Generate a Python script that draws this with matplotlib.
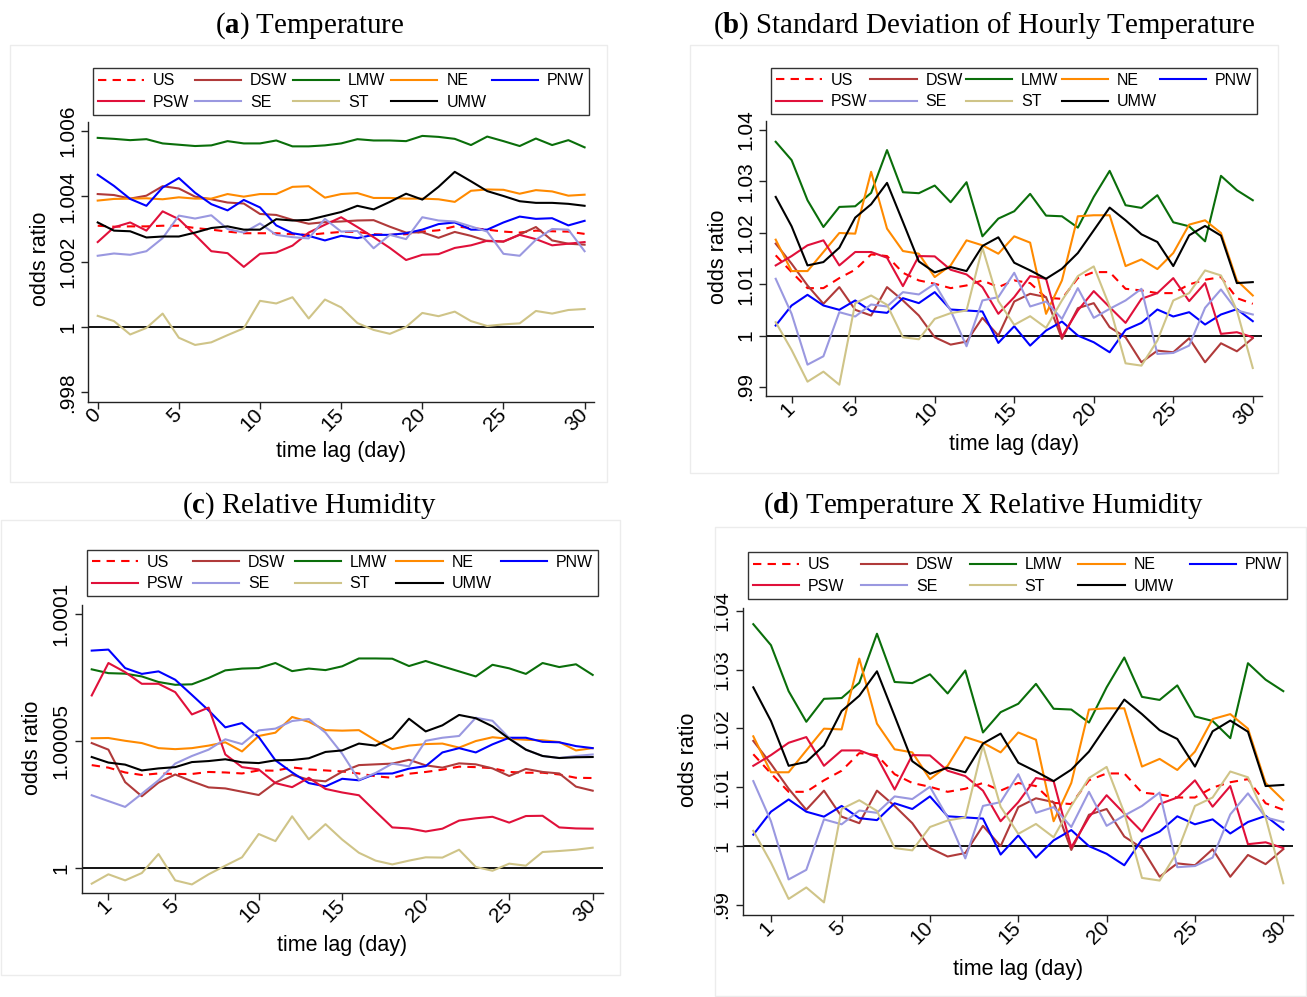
import numpy as np
import matplotlib
matplotlib.use('Agg')
import matplotlib.pyplot as plt
from matplotlib.patches import Rectangle

plt.rcParams['font.family'] = ['Liberation Sans', 'DejaVu Sans']
plt.rcParams['mathtext.fontset'] = 'custom'
plt.rcParams['mathtext.rm'] = 'Liberation Serif'
plt.rcParams['mathtext.bf'] = 'Liberation Serif:bold'

# ---------------- data ----------------
lags = list(range(31))
regions = ['US', 'DSW', 'LMW', 'NE', 'PNW', 'PSW', 'SE', 'ST', 'UMW']

# (a) Temperature
a_US = [1.00310, 1.00307, 1.00308, 1.00308, 1.00310, 1.00310, 1.00303, 1.00298, 1.00292, 1.00287, 1.00287,
        1.00287, 1.00284, 1.00282, 1.00287, 1.00291, 1.00291, 1.00284, 1.00282, 1.00284, 1.00292, 1.00296,
        1.00308, 1.00303, 1.00298, 1.00292, 1.00289, 1.00295, 1.00293, 1.00292, 1.00285]
a_DSW = [1.00407, 1.00404, 1.00393, 1.00402, 1.00431, 1.00424, 1.00399, 1.00391, 1.00381, 1.00378, 1.00346,
         1.00343, 1.00328, 1.00316, 1.00321, 1.00323, 1.00326, 1.00327, 1.00307, 1.00289, 1.00290, 1.00273,
         1.00291, 1.00279, 1.00263, 1.00261, 1.00283, 1.00306, 1.00265, 1.00255, 1.00252]
a_LMW = [1.00579, 1.00576, 1.00572, 1.00575, 1.00562, 1.00558, 1.00554, 1.00556, 1.00569, 1.00562, 1.00562,
         1.00571, 1.00553, 1.00553, 1.00556, 1.00562, 1.00575, 1.00571, 1.00571, 1.00569, 1.00585, 1.00582,
         1.00576, 1.00557, 1.00583, 1.00569, 1.00554, 1.00577, 1.00557, 1.00572, 1.00550]
a_NE = [1.00387, 1.00392, 1.00393, 1.00394, 1.00391, 1.00397, 1.00393, 1.00393, 1.00407, 1.00399, 1.00407,
        1.00407, 1.00429, 1.00431, 1.00396, 1.00407, 1.00410, 1.00395, 1.00395, 1.00393, 1.00393, 1.00391,
        1.00383, 1.00417, 1.00421, 1.00420, 1.00408, 1.00419, 1.00415, 1.00402, 1.00405]
a_PNW = [1.00466, 1.00432, 1.00392, 1.00371, 1.00427, 1.00456, 1.00411, 1.00376, 1.00357, 1.00389, 1.00366,
         1.00311, 1.00287, 1.00279, 1.00265, 1.00279, 1.00272, 1.00282, 1.00282, 1.00287, 1.00298, 1.00315,
         1.00320, 1.00298, 1.00298, 1.00320, 1.00338, 1.00331, 1.00333, 1.00311, 1.00325]
a_PSW = [1.00260, 1.00305, 1.00320, 1.00295, 1.00354, 1.00330, 1.00282, 1.00232, 1.00226, 1.00184, 1.00224,
         1.00228, 1.00249, 1.00289, 1.00313, 1.00336, 1.00306, 1.00275, 1.00242, 1.00205, 1.00221, 1.00223,
         1.00242, 1.00250, 1.00264, 1.00262, 1.00282, 1.00269, 1.00250, 1.00255, 1.00260]
a_SE = [1.00218, 1.00225, 1.00221, 1.00232, 1.00272, 1.00341, 1.00332, 1.00342, 1.00300, 1.00289, 1.00317,
        1.00282, 1.00275, 1.00271, 1.00331, 1.00292, 1.00294, 1.00241, 1.00282, 1.00269, 1.00336, 1.00326,
        1.00323, 1.00308, 1.00292, 1.00224, 1.00218, 1.00267, 1.00300, 1.00298, 1.00232]
a_ST = [1.00034, 1.00018, 0.99977, 0.99997, 1.00041, 0.99967, 0.99945, 0.99953, 0.99975, 0.99996, 1.00080,
        1.00072, 1.00091, 1.00026, 1.00084, 1.00060, 1.00012, 0.99991, 0.99979, 1.00000, 1.00043, 1.00033,
        1.00047, 1.00018, 1.00003, 1.00008, 1.00011, 1.00049, 1.00041, 1.00052, 1.00055]
a_UMW = [1.00320, 1.00295, 1.00293, 1.00274, 1.00277, 1.00277, 1.00289, 1.00303, 1.00308, 1.00298, 1.00298,
         1.00330, 1.00326, 1.00328, 1.00340, 1.00352, 1.00371, 1.00360, 1.00383, 1.00408, 1.00390, 1.00429,
         1.00475, 1.00446, 1.00416, 1.00401, 1.00385, 1.00380, 1.00380, 1.00377, 1.00371]

# (b) Standard deviation of hourly temperature (panel d shows the same estimates)
b_US = [1.01561, 1.01235, 1.00923, 1.00923, 1.01118, 1.01281, 1.01580, 1.01547, 1.01222, 1.01073, 1.01008,
        1.00923, 1.00975, 1.01073, 1.00943, 1.01073, 1.01021, 1.00735, 1.00715, 1.01118, 1.01235, 1.01235,
        1.00910, 1.00878, 1.00826, 1.00826, 1.00995, 1.01086, 1.01138, 1.00728, 1.00618]
b_DSW = [1.01788, 1.01398, 1.00975, 1.00618, 1.00943, 1.00501, 1.00390, 1.00943, 1.00683, 1.00390, 0.99967,
         0.99824, 0.99883, 1.00345, 1.00000, 1.00663, 1.00813, 1.00748, 0.99935, 1.00533, 1.00631, 1.00163,
         0.99967, 0.99480, 0.99707, 0.99675, 0.99948, 0.99480, 0.99850, 0.99694, 0.99948]
b_LMW = [1.03771, 1.03414, 1.02633, 1.02113, 1.02503, 1.02516, 1.02776, 1.03609, 1.02789, 1.02770, 1.02919,
         1.02594, 1.02984, 1.01931, 1.02276, 1.02419, 1.02757, 1.02334, 1.02321, 1.02100, 1.02698, 1.03205,
         1.02536, 1.02484, 1.02731, 1.02204, 1.02126, 1.01834, 1.03108, 1.02828, 1.02633]
b_NE = [1.01866, 1.01255, 1.01255, 1.01626, 1.01996, 1.01983, 1.03186, 1.02081, 1.01645, 1.01593, 1.01138,
        1.01365, 1.01853, 1.01756, 1.01593, 1.01931, 1.01808, 1.00423, 1.01073, 1.02321, 1.02341, 1.02341,
        1.01352, 1.01482, 1.01294, 1.01606, 1.02159, 1.02243, 1.01996, 1.01073, 1.00780]
b_PNW = [1.00195, 1.00585, 1.00793, 1.00585, 1.00501, 1.00683, 1.00475, 1.00442, 1.00728, 1.00631, 1.00845,
         1.00507, 1.00488, 1.00468, 0.99857, 1.00182, 0.99805, 1.00098, 1.00273, 1.00000, 0.99870, 0.99675,
         1.00111, 1.00247, 1.00507, 1.00371, 1.00455, 1.00215, 1.00410, 1.00514, 1.00280]
b_PSW = [1.01365, 1.01547, 1.01756, 1.01853, 1.01365, 1.01626, 1.01626, 1.01515, 1.00962, 1.01547, 1.01541,
         1.01281, 1.01190, 1.00943, 1.00423, 1.00748, 1.01157, 1.01105, 0.99980, 1.00488, 1.00865, 1.00553,
         1.00247, 1.00715, 1.00826, 1.01118, 1.00670, 1.01021, 1.00033, 1.00065, 0.99967]
b_SE = [1.01105, 1.00423, 0.99434, 0.99597, 1.00455, 1.00371, 1.00605, 1.00566, 1.00845, 1.00800, 1.01008,
        1.00488, 0.99792, 1.00683, 1.00748, 1.01222, 1.00566, 1.00663, 1.00325, 1.00923, 1.00345, 1.00520,
        1.00683, 1.00910, 0.99642, 0.99662, 0.99805, 1.00540, 1.00897, 1.00488, 1.00410]
b_ST = [1.00260, 0.99720, 0.99103, 0.99298, 0.99044, 1.00631, 1.00780, 1.00598, 0.99967, 0.99928, 1.00325,
        1.00436, 1.00488, 1.01710, 1.00670, 1.00208, 1.00377, 1.00150, 1.00683, 1.01157, 1.01346, 1.00566,
        0.99460, 0.99415, 0.99902, 1.00683, 1.00826, 1.01268, 1.01170, 1.00488, 0.99369]
b_UMW = [1.02698, 1.02126, 1.01365, 1.01430, 1.01710, 1.02295, 1.02555, 1.02971, 1.02211, 1.01443, 1.01229,
         1.01333, 1.01255, 1.01743, 1.01912, 1.01417, 1.01268, 1.01105, 1.01300, 1.01606, 1.02048, 1.02490,
         1.02243, 1.01970, 1.01821, 1.01352, 1.01951, 1.02133, 1.01944, 1.01021, 1.01040]

# (c) Relative humidity
c_US = [1.0000405, 1.0000395, 1.0000376, 1.0000366, 1.0000372, 1.0000370, 1.0000370, 1.0000378, 1.0000376,
        1.0000372, 1.0000384, 1.0000383, 1.0000396, 1.0000388, 1.0000384, 1.0000380, 1.0000372, 1.0000361,
        1.0000355, 1.0000371, 1.0000378, 1.0000387, 1.0000399, 1.0000397, 1.0000393, 1.0000378, 1.0000375,
        1.0000375, 1.0000368, 1.0000355, 1.0000354]
c_DSW = [1.0000492, 1.0000466, 1.0000338, 1.0000282, 1.0000336, 1.0000368, 1.0000341, 1.0000317, 1.0000313,
         1.0000300, 1.0000287, 1.0000336, 1.0000367, 1.0000347, 1.0000341, 1.0000379, 1.0000405, 1.0000408,
         1.0000411, 1.0000426, 1.0000404, 1.0000395, 1.0000412, 1.0000408, 1.0000392, 1.0000362, 1.0000390,
         1.0000378, 1.0000372, 1.0000320, 1.0000304]
c_LMW = [1.0000783, 1.0000768, 1.0000766, 1.0000755, 1.0000733, 1.0000722, 1.0000724, 1.0000749, 1.0000779,
         1.0000786, 1.0000788, 1.0000808, 1.0000776, 1.0000786, 1.0000780, 1.0000795, 1.0000826, 1.0000826,
         1.0000825, 1.0000796, 1.0000816, 1.0000795, 1.0000775, 1.0000755, 1.0000801, 1.0000787, 1.0000765,
         1.0000808, 1.0000792, 1.0000803, 1.0000761]
c_NE = [1.0000511, 1.0000512, 1.0000501, 1.0000492, 1.0000472, 1.0000468, 1.0000472, 1.0000482, 1.0000495,
        1.0000459, 1.0000520, 1.0000533, 1.0000595, 1.0000576, 1.0000543, 1.0000541, 1.0000543, 1.0000503,
        1.0000468, 1.0000482, 1.0000488, 1.0000490, 1.0000474, 1.0000500, 1.0000515, 1.0000509, 1.0000505,
        1.0000503, 1.0000496, 1.0000463, 1.0000472]
c_PNW = [1.0000857, 1.0000861, 1.0000788, 1.0000765, 1.0000775, 1.0000742, 1.0000682, 1.0000621, 1.0000554,
         1.0000571, 1.0000516, 1.0000424, 1.0000376, 1.0000334, 1.0000321, 1.0000351, 1.0000345, 1.0000371,
         1.0000372, 1.0000391, 1.0000401, 1.0000455, 1.0000472, 1.0000455, 1.0000487, 1.0000513, 1.0000513,
         1.0000497, 1.0000495, 1.0000480, 1.0000472]
c_PSW = [1.0000680, 1.0000808, 1.0000772, 1.0000726, 1.0000726, 1.0000693, 1.0000605, 1.0000632, 1.0000447,
         1.0000397, 1.0000388, 1.0000334, 1.0000318, 1.0000355, 1.0000311, 1.0000297, 1.0000286, 1.0000222,
         1.0000159, 1.0000155, 1.0000143, 1.0000154, 1.0000186, 1.0000195, 1.0000201, 1.0000178, 1.0000204,
         1.0000205, 1.0000159, 1.0000155, 1.0000154]
c_SE = [1.0000286, 1.0000263, 1.0000240, 1.0000292, 1.0000345, 1.0000411, 1.0000441, 1.0000466, 1.0000507,
        1.0000488, 1.0000542, 1.0000549, 1.0000579, 1.0000587, 1.0000533, 1.0000450, 1.0000347, 1.0000374,
        1.0000411, 1.0000400, 1.0000501, 1.0000513, 1.0000520, 1.0000592, 1.0000580, 1.0000512, 1.0000466,
        1.0000441, 1.0000433, 1.0000441, 1.0000447]
c_ST = [0.9999937, 0.9999974, 0.9999950, 0.9999979, 1.0000054, 0.9999950, 0.9999934, 0.9999974, 1.0000008,
        1.0000041, 1.0000133, 1.0000105, 1.0000203, 1.0000112, 1.0000172, 1.0000111, 1.0000059, 1.0000028,
        1.0000013, 1.0000028, 1.0000041, 1.0000040, 1.0000071, 1.0000003, 0.9999988, 1.0000016, 1.0000008,
        1.0000062, 1.0000066, 1.0000071, 1.0000079]
c_UMW = [1.0000437, 1.0000415, 1.0000407, 1.0000384, 1.0000392, 1.0000397, 1.0000417, 1.0000421, 1.0000428,
         1.0000416, 1.0000413, 1.0000424, 1.0000425, 1.0000432, 1.0000457, 1.0000463, 1.0000490, 1.0000482,
         1.0000512, 1.0000588, 1.0000538, 1.0000562, 1.0000603, 1.0000590, 1.0000558, 1.0000509, 1.0000466,
         1.0000441, 1.0000433, 1.0000436, 1.0000437]

# tick definitions
a_xticks = [0, 5, 10, 15, 20, 25, 30]
bcd_xticks = [1, 5, 10, 15, 20, 25, 30]
a_yticks = [0.998, 1.0, 1.002, 1.004, 1.006]
a_ylabels = ['.998', '1', '1.002', '1.004', '1.006']
b_yticks = [0.99, 1.0, 1.01, 1.02, 1.03, 1.04]
b_ylabels = ['.99', '1', '1.01', '1.02', '1.03', '1.04']
c_yticks = [1.0, 1.00005, 1.0001]
c_ylabels = ['1', '1.00005', '1.0001']

titles = ['Temperature', 'Standard Deviation of Hourly Temperature',
          'Relative Humidity', 'Temperature X Relative Humidity']
letters = ['a', 'b', 'c', 'd']

# ---------------- style ----------------
colors = {'US': '#ff0000', 'DSW': '#b03a3a', 'LMW': '#0a6e0a', 'NE': '#ff8a00',
          'PNW': '#0000ff', 'PSW': '#e0103a', 'SE': '#9a98e0', 'ST': '#cfc488',
          'UMW': '#000000'}
styles = {r: '-' for r in regions}
styles['US'] = (0, (4, 3))

W, H = 1307, 997
fig = plt.figure(figsize=(W / 100, H / 100), dpi=100)


def fx(px):
    return px / W


def fy(py):
    return 1 - py / H


# faint panel frames
for (x0, y0, x1, y1) in [(10, 45, 607, 482), (690, 45, 1278, 473), (1, 520, 620, 975), (715, 527, 1306, 996)]:
    fig.patches.append(Rectangle((fx(x0), fy(y1)), fx(x1 - x0), (y1 - y0) / H,
                                 transform=fig.transFigure, fill=False, edgecolor='#ececec', lw=1))

panels = [
    dict(data=dict(US=a_US, DSW=a_DSW, LMW=a_LMW, NE=a_NE, PNW=a_PNW, PSW=a_PSW, SE=a_SE, ST=a_ST, UMW=a_UMW),
         box=(88.3, 121.7, 594, 401.7), xlim=(-0.58, 30.58), ylim=(0.997712, 1.006285),
         xt=a_xticks, yt=a_yticks, yl=a_ylabels, leg=(93, 67, 589, 116),
         title=(310, 26), ylab=(40, 259), xlab=(341, 451)),
    dict(data=dict(US=b_US, DSW=b_DSW, LMW=b_LMW, NE=b_NE, PNW=b_PNW, PSW=b_PSW, SE=b_SE, ST=b_ST, UMW=b_UMW),
         box=(766, 121, 1262, 395.7), xlim=(-0.61, 30.58), ylim=(0.98830, 1.04175),
         xt=bcd_xticks, yt=b_yticks, yl=b_ylabels, leg=(771, 67, 1257, 115),
         title=(984, 26), ylab=(718, 257), xlab=(1014, 444)),
    dict(data=dict(US=c_US, DSW=c_DSW, LMW=c_LMW, NE=c_NE, PNW=c_PNW, PSW=c_PSW, SE=c_SE, ST=c_ST, UMW=c_UMW),
         box=(81.7, 605, 602.7, 893.3), xlim=(-0.6, 30.6), ylim=(0.9999899, 1.0001037),
         xt=bcd_xticks, yt=c_yticks, yl=c_ylabels, leg=(87, 548, 598, 598),
         title=(310, 506), ylab=(32, 748), xlab=(342, 945)),
    dict(data=dict(US=b_US, DSW=b_DSW, LMW=b_LMW, NE=b_NE, PNW=b_PNW, PSW=b_PSW, SE=b_SE, ST=b_ST, UMW=b_UMW),
         box=(742.7, 608, 1293, 915), xlim=(-0.6, 30.55), ylim=(0.9883, 1.04046),
         xt=bcd_xticks, yt=b_yticks, yl=b_ylabels, leg=(748, 549, 1287, 602),
         title=(984, 506), ylab=(688, 760), xlab=(1018, 969)),
]

legend_order = ['US', 'PSW', 'DSW', 'SE', 'LMW', 'ST', 'NE', 'UMW', 'PNW']

for p, letter, ttl in zip(panels, letters, titles):
    x0, y0, x1, y1 = p['box']
    ax = fig.add_axes([fx(x0), fy(y1), fx(x1 - x0), (y1 - y0) / H])
    ax.axhline(1.0, color='black', lw=1.3, zorder=1)
    handles = {}
    for r in regions:
        ln, = ax.plot(lags, p['data'][r], color=colors[r], linestyle=styles[r], lw=1.5, label=r, zorder=2)
        handles[r] = ln
    ax.set_xlim(*p['xlim'])
    ax.set_ylim(*p['ylim'])
    ax.set_xticks(p['xt'])
    ax.set_xticklabels([str(t) for t in p['xt']], rotation=45, ha='right', va='center',
                       rotation_mode='anchor', fontsize=15)
    ax.set_yticks(p['yt'])
    ax.set_yticklabels(p['yl'], rotation=90, va='center', fontsize=15)
    ax.tick_params(axis='both', length=5, width=1, color='#222222', pad=3)
    ax.tick_params(axis='x', pad=2)
    for s in ['top', 'right']:
        ax.spines[s].set_visible(False)
    for s in ['left', 'bottom']:
        ax.spines[s].set_color('#222222')
        ax.spines[s].set_linewidth(1.0)

    lx0, ly0, lx1, ly1 = p['leg']
    leg = ax.legend([handles[r] for r in legend_order], legend_order, ncol=5, mode='expand',
                    bbox_to_anchor=(fx(lx0), fy(ly1), fx(lx1 - lx0), (ly1 - ly0) / H),
                    bbox_transform=fig.transFigure, loc='center', borderaxespad=0,
                    fontsize=11.5, handlelength=2.9, handletextpad=0.55, labelspacing=0.42,
                    borderpad=0.3, fancybox=False, framealpha=1, edgecolor='#333333')
    leg.get_frame().set_linewidth(1.0)

    fig.text(fx(p['title'][0]), fy(p['title'][1]), r'($\mathbf{%s}$) %s' % (letter, ttl),
             ha='center', va='center', fontsize=20.8, family='Liberation Serif')
    fig.text(fx(p['ylab'][0]), fy(p['ylab'][1]), 'odds ratio', rotation=90,
             ha='center', va='center', fontsize=15.5)
    fig.text(fx(p['xlab'][0]), fy(p['xlab'][1]), 'time lag (day)',
             ha='center', va='center', fontsize=15.5)

fig.savefig('out.png', dpi=100)
